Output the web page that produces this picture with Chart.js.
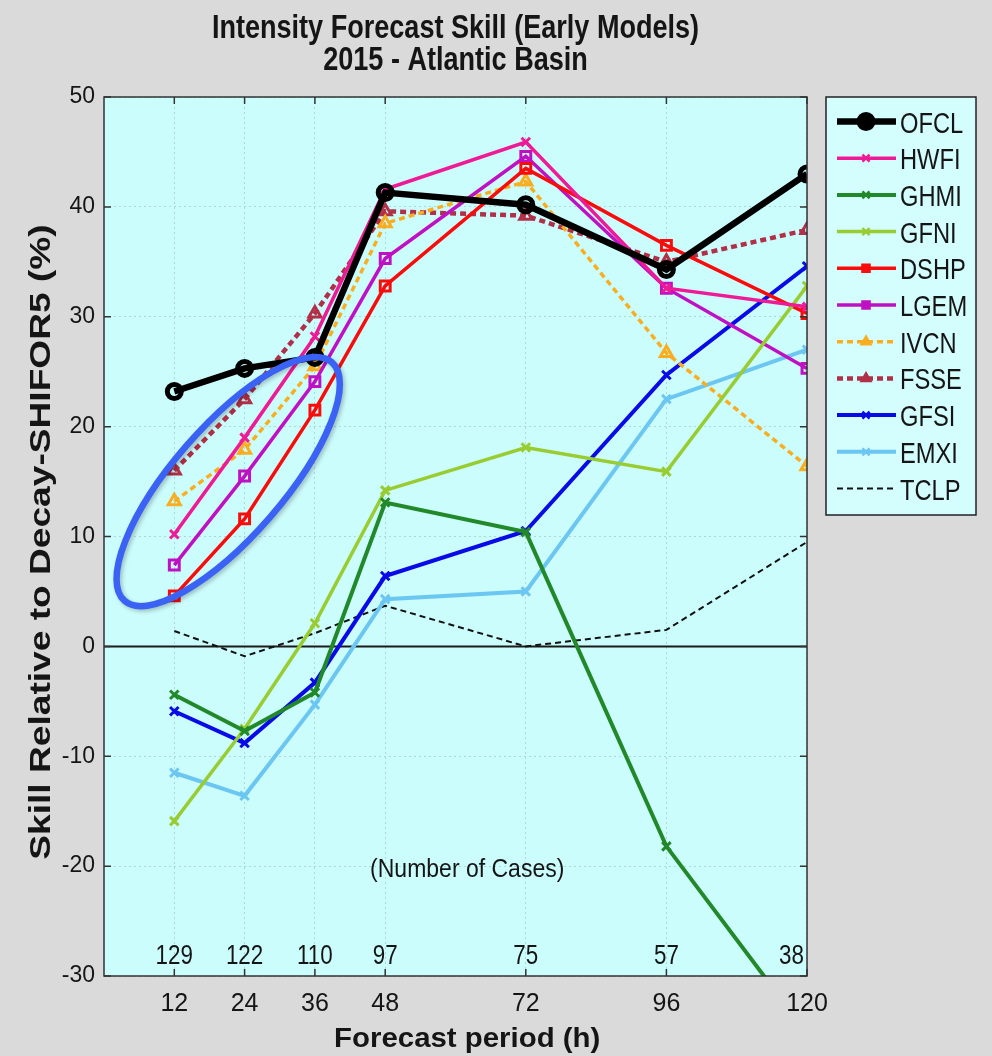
<!DOCTYPE html>
<html lang="en">
<head>
    <meta charset="UTF-8">
    <title>Intensity Forecast Skill (Early Models) 2015 - Atlantic Basin</title>
    <script src="https://cdn.jsdelivr.net/npm/chart.js"></script>
    <style>
        body {
            margin: 0;
            padding: 0;
            background-color: #dadada;
            overflow: hidden;
        }
        .chart-box {
            position: relative;
            width: 992px;
            height: 1056px;
        }
    </style>
</head>
<body>

<div class="chart-box">
    <canvas id="skillChart"></canvas>
</div>

<script>
// Forecast hours and tick marks
const hours = [12, 24, 36, 48, 72, 96, 120];
const xTicks = [12, 24, 36, 48, 72, 96, 120];
const yTicks = [-30, -20, -10, 0, 10, 20, 30, 40, 50];
const cases = [129, 122, 110, 97, 75, 57, 38];

// Skill values (%)
const ofcl = [23.2, 25.3, 26.3, 41.3, 40.2, 34.3, 43.0];
const hwfi = [10.2, 19.0, 28.2, 41.6, 45.9, 32.6, 30.9];
const ghmi = [-4.4, -7.7, -4.2, 13.1, 10.4, -18.2, -35.2];
const gfni = [-15.9, -7.5, 2.1, 14.2, 18.1, 15.9, 32.8];
const dshp = [4.6, 11.6, 21.5, 32.8, 43.5, 36.5, 30.3];
const lgem = [7.4, 15.5, 24.1, 35.3, 44.6, 32.6, 25.3];
const ivcn = [13.2, 17.9, 25.5, 38.5, 42.3, 26.7, 16.4];
const fsse = [16.0, 22.5, 30.3, 39.6, 39.2, 35.0, 37.9];
const gfsi = [-5.9, -8.8, -3.3, 6.4, 10.5, 24.7, 34.6];
const emxi = [-11.5, -13.6, -5.3, 4.3, 5.0, 22.5, 27.0];
const tclp = [1.4, -0.9, 1.2, 3.7, 0.0, 1.5, 9.5];

const sans = "'Liberation Sans', Arial, sans-serif";
const ink = '#151515';

function pts(values) {
    return hours.map((h, i) => ({ x: h, y: values[i] }));
}

function series(label, values, color, style, extra) {
    return Object.assign({
        label: label,
        data: pts(values),
        borderColor: color,
        backgroundColor: 'rgba(0,0,0,0)',
        pointBorderColor: color,
        pointBackgroundColor: 'rgba(0,0,0,0)',
        pointStyle: style,
        pointRadius: 6,
        pointBorderWidth: 3,
        borderWidth: 3.5,
        tension: 0
    }, extra || {});
}

const datasets = [
    series('OFCL', ofcl, '#000000', 'circle', { borderWidth: 6.5, pointRadius: 7, pointBorderWidth: 5 }),
    series('HWFI', hwfi, '#ee1a96', 'crossRot'),
    series('GHMI', ghmi, '#22892a', 'crossRot', { borderWidth: 4 }),
    series('GFNI', gfni, '#98cc30', 'crossRot'),
    series('DSHP', dshp, '#f80c0c', 'rect', { pointRadius: 7 }),
    series('LGEM', lgem, '#c010c4', 'rect', { pointRadius: 7 }),
    series('IVCN', ivcn, '#f8ae20', 'triangle', { borderDash: [6, 4], pointRadius: 7 }),
    series('FSSE', fsse, '#b03048', 'triangle', { borderDash: [6, 4], borderWidth: 4.5, pointRadius: 7 }),
    series('GFSI', gfsi, '#0a0ae6', 'crossRot', { borderWidth: 4 }),
    series('EMXI', emxi, '#6cc6f2', 'crossRot', { borderWidth: 4 }),
    series('TCLP', tclp, '#111111', false, { borderDash: [6, 4], borderWidth: 2, pointRadius: 0 })
];

// texte étiré/compressé (la figure d'origine utilise une police étroite)
function stretchText(ctx, txt, x, y, font, sx, align, angle) {
    ctx.save();
    ctx.translate(x, y);
    if (angle) ctx.rotate(angle);
    ctx.scale(sx, 1);
    ctx.font = font;
    ctx.textAlign = align || 'center';
    ctx.textBaseline = 'alphabetic';
    ctx.fillStyle = ink;
    ctx.fillText(txt, 0, 0);
    ctx.restore();
}

// fond gris, zone de tracé cyan, ligne zéro
const backgroundPlugin = {
    id: 'backgroundPlugin',
    beforeDraw(chart) {
        const { ctx, chartArea: a } = chart;
        ctx.save();
        ctx.fillStyle = '#dadada';
        ctx.fillRect(0, 0, chart.width, chart.height);
        ctx.fillStyle = '#ccfdfd';
        ctx.fillRect(a.left, a.top, a.right - a.left, a.bottom - a.top);
        ctx.restore();
    },
    beforeDatasetsDraw(chart) {
        const { ctx, chartArea: a, scales } = chart;
        const y0 = scales.y.getPixelForValue(0);
        ctx.save();
        ctx.strokeStyle = '#1a1a1a';
        ctx.lineWidth = 2;
        ctx.beginPath();
        ctx.moveTo(a.left, y0);
        ctx.lineTo(a.right, y0);
        ctx.stroke();
        ctx.restore();
    }
};

// titres, cadre, nombre de cas, ellipse et légende
const decorPlugin = {
    id: 'decorPlugin',
    afterDatasetsDraw(chart) {
        const { ctx, chartArea: a, scales } = chart;
        const xs = scales.x, ys = scales.y;
        ctx.save();

        // title
        const cx = (a.left + a.right) / 2;
        stretchText(ctx, 'Intensity Forecast Skill (Early Models)', cx, 38, 'bold 33px ' + sans, 0.82);
        stretchText(ctx, '2015 - Atlantic Basin', cx, 70, 'bold 33px ' + sans, 0.82);

        // axis titles
        stretchText(ctx, 'Forecast period (h)', xs.getPixelForValue(62), 1047, 'bold 28px ' + sans, 1.05);
        stretchText(ctx, 'Skill Relative to Decay-SHIFOR5 (%)', 50, 542, 'bold 29px ' + sans, 1.28, 'center', -Math.PI / 2);

        // frame + small inside ticks
        ctx.strokeStyle = '#333';
        ctx.lineWidth = 1.5;
        ctx.strokeRect(a.left, a.top, a.right - a.left, a.bottom - a.top);
        ctx.beginPath();
        xTicks.forEach(v => {
            const px = xs.getPixelForValue(v);
            ctx.moveTo(px, a.top); ctx.lineTo(px, a.top + 7);
            ctx.moveTo(px, a.bottom); ctx.lineTo(px, a.bottom - 7);
        });
        yTicks.forEach(v => {
            const py = ys.getPixelForValue(v);
            ctx.moveTo(a.left, py); ctx.lineTo(a.left + 7, py);
            ctx.moveTo(a.right, py); ctx.lineTo(a.right - 7, py);
        });
        ctx.stroke();

        // number of cases
        const caseFont = '28px ' + sans;
        const cy = ys.getPixelForValue(-28.9);
        ctx.font = caseFont;
        hours.forEach((h, i) => {
            const txt = String(cases[i]);
            const w = ctx.measureText(txt).width * 0.8;
            let px = xs.getPixelForValue(h);
            px = Math.min(px, a.right - w / 2 - 3);
            stretchText(ctx, txt, px, cy, caseFont, 0.8);
        });
        stretchText(ctx, '(Number of Cases)', xs.getPixelForValue(62), ys.getPixelForValue(-21.0), '25px ' + sans, 0.92);

        // blue ellipse around the short-range statistical models
        ctx.save();
        ctx.translate(xs.getPixelForValue(21.2), ys.getPixelForValue(15.0));
        ctx.rotate(-49 * Math.PI / 180);
        ctx.shadowColor = 'rgba(0,0,0,0.25)';
        ctx.shadowBlur = 4;
        ctx.shadowOffsetX = 2;
        ctx.shadowOffsetY = 2;
        ctx.strokeStyle = '#3a62f4';
        ctx.lineWidth = 6.5;
        ctx.beginPath();
        ctx.ellipse(0, 0, 158, 55, 0, 0, Math.PI * 2);
        ctx.stroke();
        ctx.restore();

        // legend box
        const lx = 826, ly = 97, lw = 150, lh = 418;
        ctx.fillStyle = '#d4fdfd';
        ctx.fillRect(lx, ly, lw, lh);
        ctx.strokeStyle = '#222';
        ctx.lineWidth = 1.5;
        ctx.strokeRect(lx, ly, lw, lh);
        chart.data.datasets.forEach((ds, i) => {
            const ry = 121.5 + i * 36.7;
            ctx.save();
            ctx.strokeStyle = ds.borderColor;
            ctx.lineWidth = ds.borderWidth;
            ctx.setLineDash(ds.borderDash || []);
            ctx.beginPath();
            ctx.moveTo(lx + 11, ry);
            ctx.lineTo(lx + 70, ry);
            ctx.stroke();
            ctx.restore();
            if (ds.pointStyle) {
                const isOfcl = ds.label === 'OFCL';
                ctx.save();
                ctx.fillStyle = ds.borderColor;
                ctx.strokeStyle = ds.borderColor;
                ctx.lineWidth = isOfcl ? 3 : 2.5;
                Chart.helpers.drawPoint(ctx, {
                    pointStyle: ds.pointStyle,
                    radius: isOfcl ? 8 : 5,
                    borderWidth: isOfcl ? 3 : 2.5,
                    rotation: 0
                }, lx + 40, ry);
                ctx.restore();
            }
            stretchText(ctx, ds.label, lx + 74, ry + 11, '30px ' + sans, 0.79, 'left');
        });

        ctx.restore();
    }
};

new Chart(document.getElementById('skillChart').getContext('2d'), {
    type: 'line',
    data: { datasets: datasets },
    plugins: [backgroundPlugin, decorPlugin],
    options: {
        responsive: true,
        maintainAspectRatio: false,
        animation: false,
        layout: {
            padding: { left: 0, right: 185, top: 97, bottom: 0 }
        },
        plugins: {
            legend: { display: false },
            title: { display: false },
            tooltip: { enabled: false }
        },
        scales: {
            x: {
                type: 'linear',
                min: 0,
                max: 120,
                afterBuildTicks: scale => {
                    scale.ticks = xTicks.map(v => ({ value: v }));
                },
                afterFit: scale => { scale.height = 80; },
                grid: {
                    color: 'rgba(130,160,160,0.4)',
                    lineWidth: 1,
                    drawTicks: false
                },
                border: { display: false, dash: [2, 3] },
                ticks: {
                    color: ink,
                    font: { family: sans, size: 25 },
                    padding: 13,
                    maxRotation: 0
                },
                title: { display: false }
            },
            y: {
                min: -30,
                max: 50,
                afterBuildTicks: scale => {
                    scale.ticks = yTicks.map(v => ({ value: v }));
                },
                afterFit: scale => { scale.width = 104; },
                grid: {
                    color: 'rgba(130,160,160,0.4)',
                    lineWidth: 1,
                    drawTicks: false
                },
                border: { display: false, dash: [2, 3] },
                ticks: {
                    color: ink,
                    font: { family: sans, size: 23 },
                    padding: 9
                },
                title: { display: false }
            }
        }
    }
});
</script>

</body>
</html>
